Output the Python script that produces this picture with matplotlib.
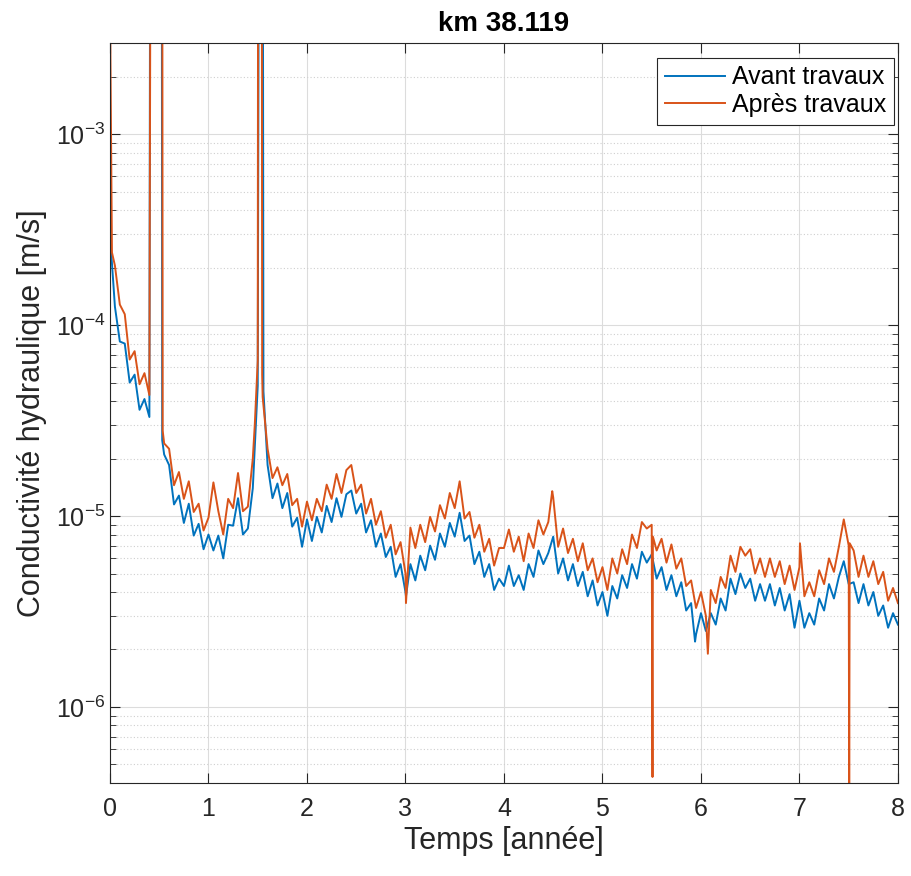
import numpy as np
import matplotlib
matplotlib.use('Agg')
import matplotlib.pyplot as plt
from matplotlib.ticker import LogLocator, NullFormatter, FixedLocator

plt.rcParams['font.family'] = ['Liberation Sans', 'DejaVu Sans']
plt.rcParams['mathtext.fontset'] = 'custom'
plt.rcParams['mathtext.rm'] = 'Liberation Sans'
plt.rcParams['mathtext.default'] = 'regular'

# time grid every 0.05 year, values in 1e-6 m/s
t_grid = np.linspace(0, 8, 161)

avant = [
    400, 125, 82, 80, 50, 55, 36, 41, 33, 1e5,
    1e5, 21, 18.5, 11.5, 12.8, 9.2, 11.6, 7.9, 9.1, 6.7,
    8.0, 6.6, 7.9, 6.0, 9.0, 8.9, 12.4, 8.0, 8.6, 14,
    48, 1e5, 18.5, 12.4, 14.8, 11.0, 13.2, 8.8, 9.8, 6.9,
    9.6, 7.4, 9.9, 8.2, 11.3, 9.3, 12.4, 9.9, 13.0, 13.6,
    10.3, 11.6, 8.2, 9.5, 6.9, 8.1, 6.1, 6.9, 4.8, 5.6,
    4.0, 5.6, 4.6, 6.2, 5.2, 7.0, 5.9, 8.1, 6.9, 9.2,
    7.8, 10.4, 7.4, 7.9, 5.6, 6.5, 4.8, 5.6, 4.1, 4.7,
    4.3, 5.5, 4.3, 4.9, 4.1, 5.6, 4.8, 6.6, 5.6, 6.4,
    7.8, 5.0, 6.0, 4.6, 5.6, 4.3, 5.1, 3.8, 4.6, 3.4,
    4.0, 3.0, 4.3, 3.7, 4.9, 4.2, 5.6, 4.7, 6.5, 5.7,
    6.3, 4.7, 5.4, 4.1, 4.9, 3.8, 4.5, 3.2, 3.5, 2.4,
    3.1, 2.5, 3.1, 2.7, 3.7, 3.2, 4.7, 3.9, 5.0, 4.2,
    4.7, 3.6, 4.4, 3.6, 4.4, 3.4, 4.2, 3.2, 3.9, 2.6,
    3.6, 2.6, 3.1, 2.7, 3.7, 3.2, 4.4, 3.7, 4.8, 5.8,
    4.4, 4.5, 3.5, 4.4, 3.4, 4.0, 3.0, 3.4, 2.6, 3.1,
    2.7,
]
apres = [
    5000, 205, 128, 114, 66, 73, 49, 56, 43, 1e5,
    1e5, 24, 22.5, 14.5, 17, 12.3, 15.2, 10.5, 11.6, 8.4,
    9.8, 15, 10.6, 8.0, 12.3, 11.0, 16.8, 10.6, 11.2, 20,
    65, 42, 22.5, 15.8, 18, 14.5, 16.6, 11.4, 12.3, 8.8,
    11.9, 9.5, 12.3, 10.6, 14.6, 12.3, 16.6, 13.2, 17.4, 18.5,
    13.2, 14.6, 10.3, 12.3, 9.0, 10.6, 7.7, 9.0, 6.3, 7.3,
    5.0, 8.7, 6.8, 9.0, 7.3, 9.9, 8.3, 11.4, 9.7, 13.2,
    11.0, 15.2, 9.7, 10.5, 7.7, 9.0, 6.5, 7.6, 5.5, 6.8,
    6.8, 8.5, 6.5, 7.8, 5.8, 8.1, 6.8, 9.5, 8.0, 9.3,
    12.5, 6.9, 8.6, 6.4, 7.6, 5.8, 7.2, 5.2, 6.0, 4.5,
    5.4, 4.1, 6.0, 5.0, 6.7, 5.6, 8.0, 6.8, 9.3, 8.6,
    9.0, 6.6, 7.6, 5.7, 7.1, 5.3, 6.0, 4.3, 4.6, 3.3,
    4.0, 3.0, 4.1, 3.5, 4.8, 4.2, 6.2, 5.1, 6.9, 6.2,
    6.7, 5.0, 6.0, 4.8, 6.0, 4.8, 5.8, 4.4, 5.5, 4.1,
    5.4, 3.8, 4.5, 3.8, 5.2, 4.4, 6.0, 5.1, 6.9, 9.6,
    7.0, 6.6, 4.8, 6.2, 4.8, 5.8, 4.4, 5.1, 3.6, 4.2,
    3.5,
]

# extra points around the spikes
avant_extra_t = [0.01, 0.41, 0.525, 0.53, 1.515, 1.558, 5.94, 3.005]
avant_extra_v = [250, 1e5, 1e5, 25, 1e5, 45, 2.2, 3.8]
apres_extra_t = [0.02, 0.415, 0.53, 0.535, 1.47, 1.505, 1.54, 1.545,
                 3.005, 4.49, 5.508, 5.512, 6.07, 7.005, 7.505, 7.51]
apres_extra_v = [240, 1e5, 1e5, 28, 30, 1e5, 1e5, 55,
                 3.5, 13.5, 0.43, 7.8, 1.9, 7.2, 0.3, 7.2]


def merge(t, v, te, ve):
    tt = np.concatenate([t, te])
    vv = np.concatenate([v, ve]) * 1e-6
    o = np.argsort(tt, kind='stable')
    return tt[o], vv[o]


tb, vb = merge(t_grid, avant, avant_extra_t, avant_extra_v)
ta, va = merge(t_grid, apres, apres_extra_t, apres_extra_v)

fig = plt.figure(figsize=(9.12, 8.76), dpi=100)
ax = fig.add_axes([0.1206, 0.1062, 0.864, 0.8447])

ax.plot(tb, vb, color='#0072BD', lw=1.4, label='Avant travaux')
ax.plot(ta, va, color='#D95319', lw=1.4, label='Après travaux')

ax.set_yscale('log')
ax.set_xlim(0, 8)
ax.set_ylim(4e-7, 3e-3)
ax.xaxis.set_major_locator(FixedLocator(range(9)))
ax.yaxis.set_major_locator(FixedLocator([1e-6, 1e-5, 1e-4, 1e-3]))
ax.yaxis.set_minor_locator(LogLocator(base=10, subs=np.arange(2, 10), numticks=20))
ax.yaxis.set_minor_formatter(NullFormatter())

ax.grid(True, which='major', color='#dcdcdc', lw=0.8, ls='-')
ax.grid(True, which='minor', axis='y', color='#cfcfcf', lw=0.8, ls=(0, (1, 2)))
ax.set_axisbelow(True)

ax.tick_params(which='both', direction='in', top=True, right=True, colors='#262626',
               labelsize=18, labelcolor='#262626')
ax.tick_params(which='major', length=7, width=0.8)
ax.tick_params(which='minor', length=4, width=0.6)
ax.tick_params(axis='x', pad=10)
for s in ax.spines.values():
    s.set_color('#262626')
    s.set_linewidth(0.8)

ax.set_xlabel('Temps [année]', fontsize=22, color='#262626', labelpad=4)
ax.set_ylabel('Conductivité hydraulique [m/s]', fontsize=22, color='#262626', labelpad=6)
ax.set_title('km 38.119', fontsize=20, fontweight='bold', pad=9)

leg = ax.legend(loc='upper right', bbox_to_anchor=(0.995, 0.98), borderaxespad=0,
                fontsize=18, fancybox=False, framealpha=1, edgecolor='#262626',
                handlelength=2.4, handletextpad=0.3, labelspacing=0.15, borderpad=0.3)
leg.get_frame().set_linewidth(0.8)

plt.savefig('out.png', dpi=100)
